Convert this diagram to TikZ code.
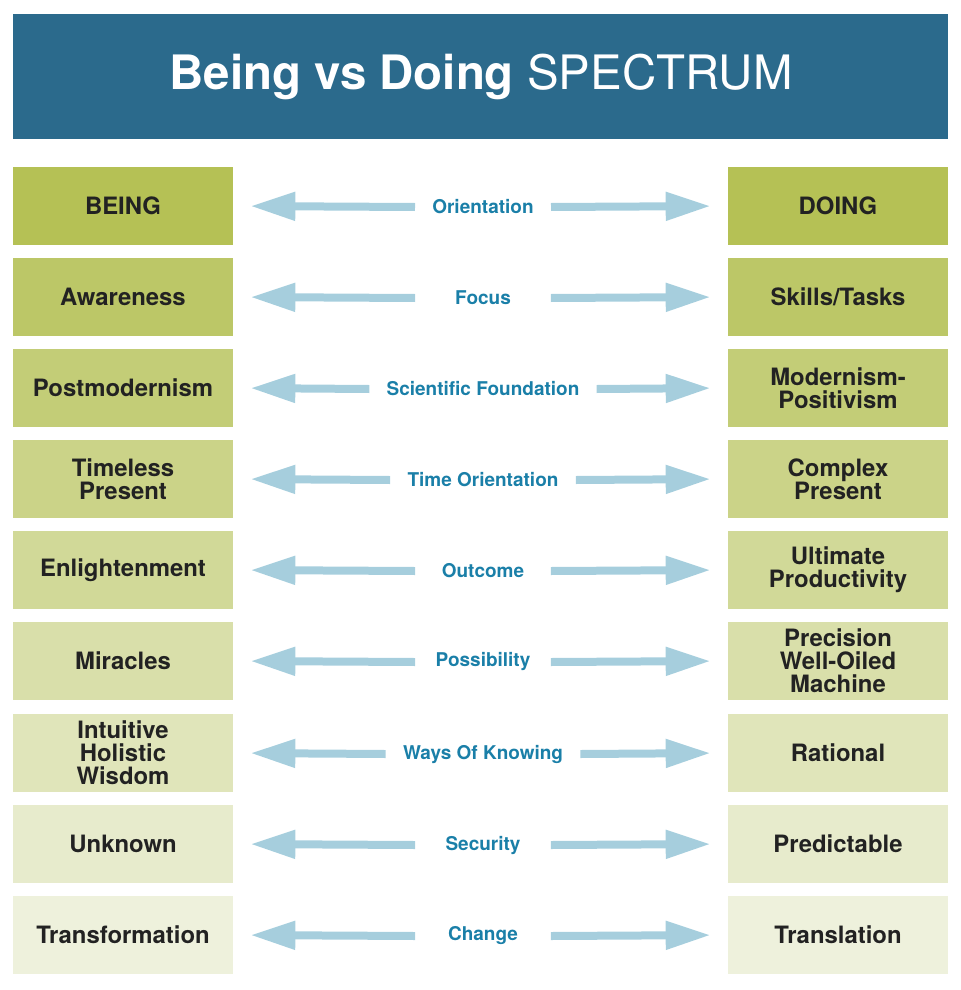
\documentclass[tikz,border=0pt]{standalone}
\usepackage{fontspec}
\setmainfont{TeX Gyre Heros}
\usetikzlibrary{arrows.meta}
\definecolor{headblue}{HTML}{2B6A8C}
\definecolor{darkgreen}{HTML}{B5C155}
\definecolor{lightgreen}{HTML}{EEF1DC}
\definecolor{arrowblue}{HTML}{A6CEDD}
\definecolor{labelblue}{HTML}{1A7FA8}
\definecolor{boxtext}{HTML}{222222}
\tikzset{
    spectbox/.style = {minimum width = 4.4cm, minimum height = 1.56cm, inner sep = 0pt,
        align = center, font = \fontsize{13.6}{13.2}\selectfont\bfseries, text = boxtext},
    midlabel/.style = {inner xsep = 0.34cm, minimum width = 2.7cm,
        font = \fontsize{10.8}{12}\selectfont\bfseries, text = labelblue},
    spectarrow/.style = {draw = arrowblue, line width = 0.16cm,
        -{Triangle[length = 0.9cm, width = 0.54cm]}, shorten > = 0.34cm}
}
\begin{document}
\begin{tikzpicture}[x = 0.02cm, y = -0.02cm]

        \useasboundingbox (0, 0) rectangle (960, 990);

        \fill[headblue] (13, 14) rectangle (948, 139);
        \node [text = white, font = \fontsize{27}{30}\selectfont] (title) at (481, 77)
            {\textbf{Being vs Doing} SPECTRUM};

        \foreach \y/\lft/\mid/\rgt [count = \i from 0] in {
                206/BEING/Orientation/DOING,
                297/Awareness/Focus/Skills\slash Tasks,
                388/Postmodernism/Scientific Foundation/Modernism-\\Positivism,
                479/Timeless\\Present/Time Orientation/Complex\\Present,
                570/Enlightenment/Outcome/Ultimate\\Productivity,
                661/Miracles/Possibility/Precision\\Well-Oiled\\Machine,
                753/Intuitive\\Holistic\\Wisdom/Ways Of Knowing/Rational,
                844/Unknown/Security/Predictable,
                935/Transformation/Change/Translation} {

                \pgfmathtruncatemacro{\pct}{100 - 12.5 * \i}
                \colorlet{rowfill}{darkgreen!\pct!lightgreen}

                \node [spectbox, fill = rowfill] (being\i) at (123, \y) {\lft};
                \node [spectbox, fill = rowfill] (doing\i) at (838, \y) {\rgt};
                \node [midlabel] (dim\i) at (483, \y + 1) {\mid};

                \draw [spectarrow] (dim\i.west) -- (being\i.east);
                \draw [spectarrow] (dim\i.east) -- (doing\i.west);
            }

    \end{tikzpicture}
\end{document}
